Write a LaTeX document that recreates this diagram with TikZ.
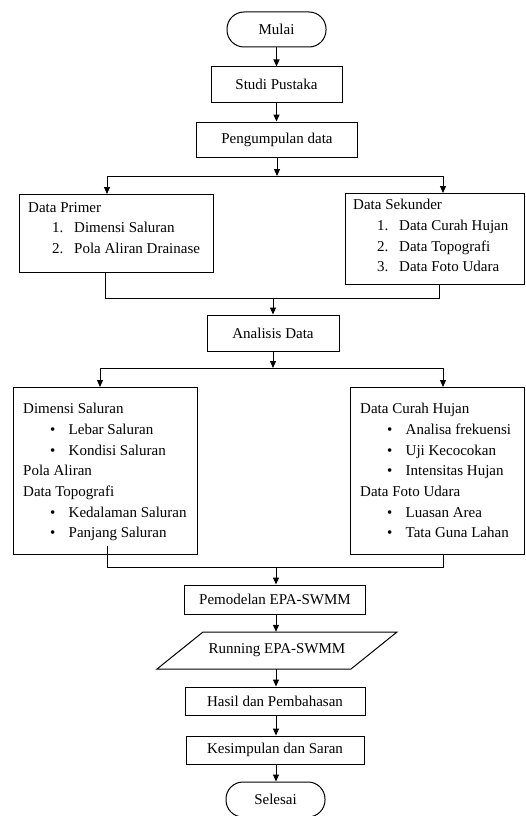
\documentclass[tikz,border=0pt]{standalone}
\usepackage{fontspec}
\setmainfont{Liberation Serif}
\usetikzlibrary{arrows.meta}
\newcommand\numitem[2]{\hspace*{24pt}\makebox[22pt][l]{#1}#2}
\newcommand\bulitem[1]{\hspace*{27pt}\makebox[18.5pt][l]{\textbullet}#1}
\begin{document}
\begin{tikzpicture}[x=1pt,y=-1pt,
  font=\fontsize{15}{20.7}\selectfont,
  box/.style={draw, line width=1pt, rectangle, inner sep=0pt},
  term/.style={box, rounded corners=17pt, minimum width=99pt, minimum height=35pt},
  txt/.style={align=left, inner sep=0pt, anchor=north west},
  arr/.style={line width=1pt, -{Triangle[width=6pt,length=7pt]}},
  ln/.style={line width=1pt}]
\useasboundingbox (0,0) rectangle (526,816);

\node[term] (mulai) at (276.5,29.5) {Mulai};
\node[box, minimum width=131pt, minimum height=35pt] (studi) at (276.5,84.5) {Studi Pustaka};
\node[box, minimum width=161pt, minimum height=35pt] (peng) at (277,139.5) {Pengumpulan data};

\node[box, minimum width=194pt, minimum height=78pt] (prim) at (116,233) {};
\node[txt] (primt) at (28,202) {Data Primer\\ \numitem{1.}{Dimensi Saluran}\\ \numitem{2.}{Pola Aliran Drainase}};
\node[box, minimum width=179pt, minimum height=91pt] (sek) at (434.5,238.5) {};
\node[txt] (sekt) at (353,199) {Data Sekunder\\ \numitem{1.}{Data Curah Hujan}\\ \numitem{2.}{Data Topografi}\\ \numitem{3.}{Data Foto Udara}};

\node[box, minimum width=132pt, minimum height=36pt] (ana) at (273,333) {Analisis Data};

\node[box, minimum width=184pt, minimum height=167pt] (lbox) at (105,470.5) {};
\node[txt] (lboxt) at (23,403) {Dimensi Saluran\\ \bulitem{Lebar Saluran}\\ \bulitem{Kondisi Saluran}\\ Pola Aliran\\ Data Topografi\\ \bulitem{Kedalaman Saluran}\\ \bulitem{Panjang Saluran}};
\node[box, minimum width=174pt, minimum height=167pt] (rbox) at (437,470.5) {};
\node[txt] (rboxt) at (360,403) {Data Curah Hujan\\ \bulitem{Analisa frekuensi}\\ \bulitem{Uji Kecocokan}\\ \bulitem{Intensitas Hujan}\\ Data Foto Udara\\ \bulitem{Luasan Area}\\ \bulitem{Tata Guna Lahan}};

\node[box, minimum width=181pt, minimum height=29pt] (pem) at (275,599.5) {Pemodelan EPA-SWMM};
\node[inner sep=0pt, minimum width=194pt, minimum height=37pt] (run) at (277,650.5) {Running EPA-SWMM};
\draw[line width=1pt] (203,632) -- (397,632) -- (351,669) -- (157,669) -- cycle;
\node[box, minimum width=180pt, minimum height=28pt] (hasil) at (275,701) {Hasil dan Pembahasan};
\node[box, minimum width=178pt, minimum height=28pt] (kes) at (275,750) {Kesimpulan dan Saran};
\node[term] (sel) at (275.5,799.5) {Selesai};

% coordinates
\coordinate (j1) at (277,176);
\coordinate (p1) at (107,194);
\coordinate (s1) at (443,193);
\coordinate (pb) at (105,272);
\coordinate (sb) at (439,284);
\coordinate (m1) at (273,298);
\coordinate (j2) at (273,368);
\coordinate (l1) at (100,387);
\coordinate (r1) at (443,387);
\coordinate (lb) at (107,546);
\coordinate (rb) at (443,554);
\coordinate (m2) at (276,567);

% connectors
\draw[arr] (mulai.south) -- (mulai.south |- studi.north);
\draw[arr] (studi.south) -- (studi.south |- peng.north);
\draw[arr] (peng.south) -- (j1);
\draw[arr] (j1) -| (p1);
\draw[arr] (j1) -| (s1);
\draw[ln] (pb) |- (m1);
\draw[ln] (sb) |- (m1);
\draw[arr] (m1) -- (m1 |- ana.north);
\draw[arr] (ana.south) -- (j2);
\draw[arr] (j2) -| (l1);
\draw[arr] (j2) -| (r1);
\draw[ln] (lb) |- (m2);
\draw[ln] (rb) |- (m2);
\draw[arr] (m2) -- (m2 |- pem.north);
\draw[arr] (m2 |- pem.south) -- (m2 |- run.north);
\draw[arr] (m2 |- run.south) -- (m2 |- hasil.north);
\draw[arr] (m2 |- hasil.south) -- (m2 |- kes.north);
\draw[arr] (m2 |- kes.south) -- (m2 |- sel.north);
\end{tikzpicture}
\end{document}
